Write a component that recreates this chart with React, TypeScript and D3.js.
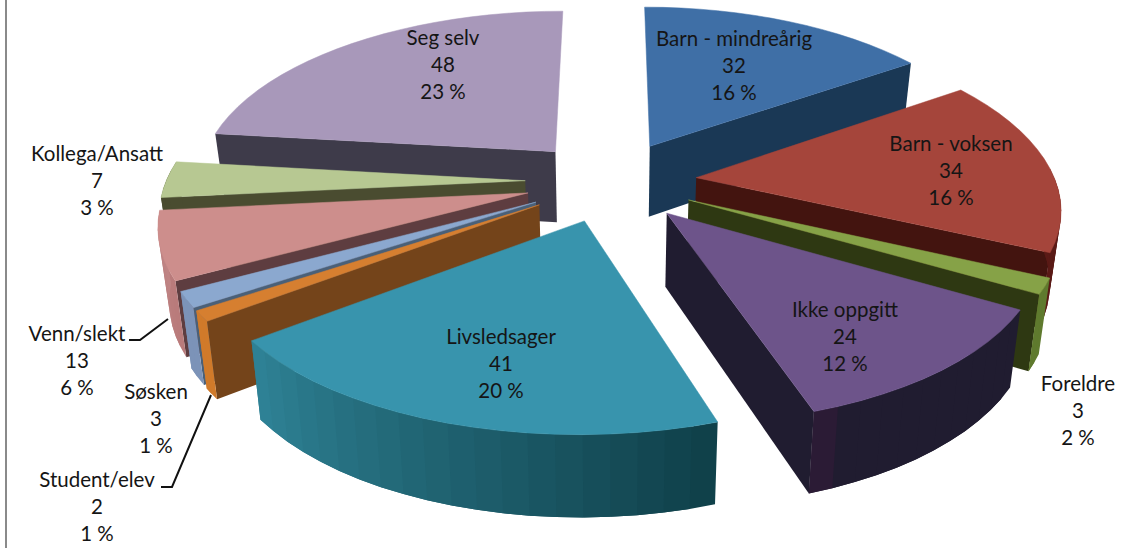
import React from "react";
import * as d3 from "d3";

const categories = ["Barn - mindreårig","Barn - voksen","Foreldre","Ikke oppgitt","Livsledsager","Student/elev","Søsken","Venn/slekt","Kollega/Ansatt","Seg selv"];
const values = [32,34,3,24,41,2,3,13,7,48];
const percents = ["16 %","16 %","2 %","12 %","20 %","1 %","1 %","6 %","3 %","23 %"];
const topColors = ["#3f6fa6","#a5453b","#86a247","#6d548a","#3894ad","#d67f30","#8ba8cf","#cd8e8c","#b7c892","#a898ba"];
const radialColors = ["#1a3855","#43140f","#2e3812","#201c30","#1c4f5c","#74441a","#4a6078","#5e3d40","#4a4c30","#3e3b4a"];
const outerFrom = ["#1a3855","#5a1a16","#5f7a2e","#201c30","#0f3f48","#d07a2a","#7c93b8","#b87a7a","#4a4c30","#3e3b4a"];
const outerTo = ["#1a3855","#5a1a16","#5f7a2e","#201c30","#2f8397","#d07a2a","#7c93b8","#c08585","#4a4c30","#3e3b4a"];
const outerLast = ["","","","#2b1b35","","","","","",""];
const labelAnchors: [number,number][] = [[734,46],[951,151],[1078,391],[845,317],[501,344],[97,487],[156,399],[77,341],[97,161],[443,45]];
const leaderLines: [number,number][][] = [[[129,340],[140,340],[168,319]],[[161,487],[172,487],[211,395]]];

const W = 1124, H = 548;
const cx = 611, cy = 181, R = 335, EXPLODE = 80, DEPTH = 72;
const SX = 1.072, SY = 0.505, PERSP_X = 0.00047, PERSP_Y = 0.00044, DEPTH_POW = 0.7, INWARD = 0.025;

function project(X:number,Y:number,down:number):[number,number]{
  const sx = 1/(1+PERSP_X*Y), sy = 1/(1+PERSP_Y*Y);
  const inward = down>0 ? 1-INWARD : 1;
  return [cx+SX*X*sx*inward, cy-SY*Y*sy+down*Math.pow(sy,DEPTH_POW)];
}
const lineGen = d3.line<[number,number]>().curve(d3.curveLinear);
const arcs = d3.pie<number>().sort(null)(values);

function wedge(i:number){
  const a0=arcs[i].startAngle,a1=arcs[i].endAngle,mid=(a0+a1)/2;
  const ox=Math.sin(mid)*EXPLODE, oy=Math.cos(mid)*EXPLODE;
  const at=(a:number,r:number,d:number)=>project(ox+Math.sin(a)*r,oy+Math.cos(a)*r,d);
  const n=Math.max(2,Math.ceil((a1-a0)/(Math.PI/50)));
  const angs=d3.range(n+1).map(k=>a0+(a1-a0)*k/n);
  const parts:{d:string,fill:string}[]=[];
  if(Math.sin(a0)<0) parts.push({d:lineGen([at(a0,0,0),at(a0,R,0),at(a0,R,DEPTH),at(a0,0,DEPTH)])+"Z",fill:radialColors[i]});
  if(Math.sin(a1)>0) parts.push({d:lineGen([at(a1,0,0),at(a1,R,0),at(a1,R,DEPTH),at(a1,0,DEPTH)])+"Z",fill:radialColors[i]});
  const shade=d3.scaleLinear<string>().domain([a0,a1]).range([outerFrom[i],outerTo[i]]);
  for(let k=0;k<n;k++){
    const b0=angs[k],b1=angs[k+1];
    if(Math.cos((b0+b1)/2)>0.05) continue;
    const fill=k===n-1&&outerLast[i]?outerLast[i]:shade((b0+b1)/2);
    // each strip reaches over the next one so that no seam shows between them
    const b2=k<n-1?angs[k+2]:b1;
    parts.push({d:lineGen([at(b0,R,0),at(b1,R,0),at(b2,R,0),at(b2,R,DEPTH),at(b1,R,DEPTH),at(b0,R,DEPTH)])+"Z",fill});
  }
  const top=lineGen([at(a0,0,0),...angs.map(a=>at(a,R,0))])+"Z";
  return {parts,top};
}

export default function App(){
  const order=d3.range(values.length).sort((a,b)=>Math.cos((arcs[b].startAngle+arcs[b].endAngle)/2)-Math.cos((arcs[a].startAngle+arcs[a].endAngle)/2));
  return (
    <svg width={W} height={H} viewBox={`0 0 ${W} ${H}`} style={{position:"absolute",left:0,top:0,background:"#fff"}}>
      <rect x={5} y={0} width={2} height={H} fill="#8a8a8a"/>
      {order.map(i=>{
        const w=wedge(i);
        return <g key={i}>
          {w.parts.map((p,k)=><path key={k} d={p.d} fill={p.fill}/>)}
          <path d={w.top} fill={topColors[i]} stroke={topColors[i]} strokeWidth={0.5}/>
        </g>;
      })}
      {leaderLines.map((l,i)=><path key={i} d={lineGen(l) as string} fill="none" stroke="#111" strokeWidth={2}/>)}
      {categories.map((c,i)=>{
        const [x,y]=labelAnchors[i];
        return <text key={c} x={x} y={y} textAnchor="middle" fontFamily="Lato, 'Open Sans', sans-serif" fontSize={20.5} fill="#151515">
          <tspan x={x} dy={0}>{c}</tspan>
          <tspan x={x} dy={27}>{values[i]}</tspan>
          <tspan x={x} dy={27}>{percents[i]}</tspan>
        </text>;
      })}
    </svg>
  );
}
